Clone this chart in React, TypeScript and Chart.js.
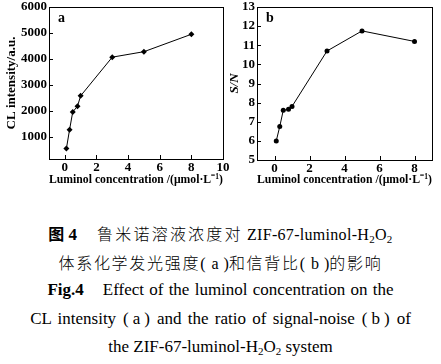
import React, { useEffect, useRef } from "react";
import { Chart, registerables } from "chart.js";
Chart.register(...registerables);

const concentrations = [0.1, 0.3, 0.5, 0.8, 1, 3, 5, 8];
const clIntensity = [550, 1280, 1960, 2180, 2580, 4070, 4280, 4950];
const snRatio = [6.0, 6.75, 7.6, 7.65, 7.8, 10.7, 11.75, 11.2];
const xTicksA = [0, 2, 4, 6, 8, 10];
const yTicksA = [1000, 2000, 3000, 4000, 5000, 6000];
const xTicksB = [0, 2, 4, 6, 8];
const yTicksB = [5, 6, 7, 8, 9, 10, 11, 12, 13];
const xTitle = "Luminol concentration /(\u03bcmol\u00b7L\u207b\u00b9)";

const SERIF = "'Liberation Serif', 'Times New Roman', serif";
const CJK = "'Noto Sans CJK SC', sans-serif";

const framePlugin = {
  id: "frameTicks",
  afterDraw(chart: any, _args: any, opts: any) {
    const { ctx, chartArea } = chart;
    const { left, right, top, bottom } = chartArea;
    ctx.save();
    ctx.strokeStyle = "#000";
    ctx.lineWidth = 1;
    ctx.strokeRect(Math.round(left) + 0.5, Math.round(top) + 0.5, Math.round(right - left), Math.round(bottom - top));
    const xs = chart.scales.x;
    const ys = chart.scales.y;
    ctx.beginPath();
    xs.ticks.forEach((t: any) => {
      const px = Math.round(xs.getPixelForValue(t.value)) + 0.5;
      ctx.moveTo(px, bottom);
      ctx.lineTo(px, bottom - 4);
    });
    ys.ticks.forEach((t: any) => {
      const py = Math.round(ys.getPixelForValue(t.value)) + 0.5;
      ctx.moveTo(left, py);
      ctx.lineTo(left + 4, py);
    });
    ctx.stroke();
    ctx.fillStyle = "#000";
    ctx.font = `bold 14px ${SERIF}`;
    ctx.textBaseline = "middle";
    ctx.textAlign = "left";
    ctx.fillText(opts.letter, left + 9, top + 11);
    ctx.restore();
  },
};

function makeConfig(
  yValues: number[],
  xTicks: number[],
  yTicks: number[],
  xMin: number,
  xMax: number,
  yMin: number,
  yMax: number,
  yLabel: string,
  yItalic: boolean,
  yAxisWidth: number,
  xAxisHeight: number,
  letter: string,
  pointStyle: string,
  pointRadius: number,
  yTitlePad: number
): any {
  const tickFont = { family: SERIF, size: 13, weight: "bold" as const };
  return {
    type: "line",
    data: {
      datasets: [
        {
          data: concentrations.map((c, i) => ({ x: c, y: yValues[i] })),
          borderColor: "#000",
          backgroundColor: "#000",
          borderWidth: 1,
          pointStyle,
          pointRadius,
          pointBorderWidth: 0,
          tension: 0,
        },
      ],
    },
    options: {
      responsive: false,
      animation: false,
      devicePixelRatio: 1,
      layout: { padding: { top: 7, right: 9, left: 0, bottom: 0 } },
      plugins: {
        legend: { display: false },
        tooltip: { enabled: false },
        frameTicks: { letter },
      },
      scales: {
        x: {
          type: "linear",
          min: xMin,
          max: xMax,
          grid: { display: false, drawTicks: false },
          border: { display: false },
          afterBuildTicks: (s: any) => {
            s.ticks = xTicks.map((v) => ({ value: v }));
          },
          afterFit: (s: any) => {
            s.height = xAxisHeight;
            s.paddingLeft = 0;
            s.paddingRight = 0;
          },
          ticks: { color: "#000", font: tickFont, padding: 1, maxRotation: 0, callback: (v: any) => String(v) },
          title: {
            display: true,
            text: xTitle,
            color: "#000",
            font: { family: SERIF, size: 13.3, weight: "bold" },
            padding: { top: 0, bottom: 4 },
          },
        },
        y: {
          type: "linear",
          min: yMin,
          max: yMax,
          grid: { display: false, drawTicks: false },
          border: { display: false },
          afterBuildTicks: (s: any) => {
            s.ticks = yTicks.map((v) => ({ value: v }));
          },
          afterFit: (s: any) => {
            s.width = yAxisWidth;
            s.paddingTop = 0;
            s.paddingBottom = 0;
          },
          ticks: { color: "#000", font: tickFont, padding: 2, callback: (v: any) => String(v) },
          title: {
            display: true,
            text: yLabel,
            color: "#000",
            font: { family: SERIF, size: 13, weight: "bold", style: yItalic ? "italic" : "normal" },
            padding: { top: yTitlePad, bottom: 0 },
          },
        },
      },
    },
    plugins: [framePlugin],
  };
}

function ChartCanvas({ config, width, height, left }: { config: any; width: number; height: number; left: number }) {
  const ref = useRef<HTMLCanvasElement | null>(null);
  useEffect(() => {
    if (!ref.current) return;
    const chart = new Chart(ref.current, config);
    return () => chart.destroy();
  }, []);
  return (
    <canvas
      ref={ref}
      width={width}
      height={height}
      style={{ position: "absolute", left, top: 0, width, height }}
    />
  );
}

const lineStyle: React.CSSProperties = { height: 28.5, lineHeight: "28.5px", whiteSpace: "nowrap" };
const sub: React.CSSProperties = { fontSize: 11, verticalAlign: "-3px", lineHeight: 0 };
const zh: React.CSSProperties = { fontFamily: CJK, fontSize: 16, letterSpacing: "1.7px", fontWeight: 300 };
const en: React.CSSProperties = { fontFamily: SERIF, fontSize: 17 };

function H2O2() {
  return (
    <>
      H<span style={sub}>2</span>O<span style={sub}>2</span>
    </>
  );
}

export default function App() {
  const configA = makeConfig(clIntensity, xTicksA, yTicksA, -1, 10, 150, 6000, "CL intensity/a.u.", false, 49, 33, "a", "rectRot", 3, 4);
  const configB = makeConfig(snRatio, xTicksB, yTicksB, -1, 9, 5, 13, "S/N", true, 35, 32, "b", "circle", 2.5, 5);
  return (
    <div style={{ position: "absolute", left: 0, top: 0, width: 441, height: 364, background: "#fff" }}>
      <ChartCanvas config={configA} width={232} height={192} left={0} />
      <ChartCanvas config={configB} width={219} height={192} left={222} />
      <div
        style={{
          position: "absolute",
          left: 0,
          top: 219,
          width: 441,
          textAlign: "center",
          fontFamily: SERIF,
          fontSize: 17,
          color: "#000",
        }}
      >
        <div style={lineStyle}>
          <b style={{ ...zh, fontWeight: 700, letterSpacing: 0 }}>图</b>
          <b style={{ ...en }}> 4</b>
          <span style={{ ...zh, marginLeft: 20, letterSpacing: "2.2px" }}>鲁米诺溶液浓度对</span>
          <span style={{ ...en, fontSize: 16, letterSpacing: "0.3px" }}>
            {" "}ZIF-67-luminol-<H2O2 />
          </span>
        </div>
        <div style={lineStyle}>
          <span style={zh}>体系化学发光强度</span>
          <span style={{ ...en, fontSize: 16 }}>
            (<span style={{ margin: "0 5px 0 6px" }}>a</span>)
          </span>
          <span style={zh}>和信背比</span>
          <span style={{ ...en, fontSize: 16 }}>
            (<span style={{ margin: "0 5px 0 6px" }}>b</span>)
          </span>
          <span style={zh}>的影响</span>
        </div>
        <div style={lineStyle}>
          <b style={en}>Fig.4</b>
          <span style={{ ...en, marginLeft: 19, wordSpacing: "1px" }}>Effect of the luminol concentration on the</span>
        </div>
        <div style={{ ...lineStyle, ...en, wordSpacing: "2px" }}>
          CL intensity<span style={{ margin: "0 7px" }}>(<span style={{ margin: "0 4px" }}>a</span>)</span>and the ratio of signal-noise<span style={{ margin: "0 7px" }}>(<span style={{ margin: "0 4px" }}>b</span>)</span>of
        </div>
        <div style={{ ...lineStyle, ...en }}>
          the ZIF-67-luminol-<H2O2 /> system
        </div>
      </div>
    </div>
  );
}
